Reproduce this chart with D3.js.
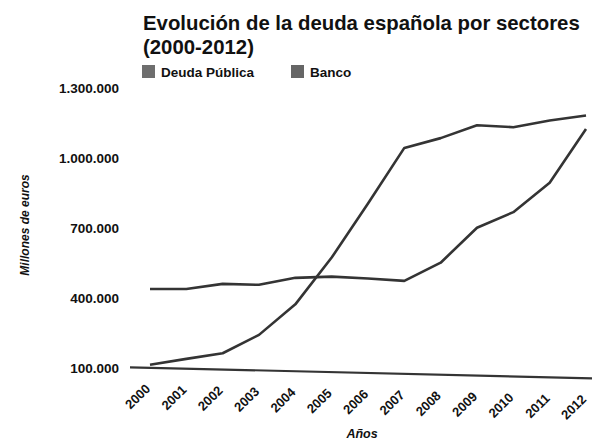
<!DOCTYPE html>
<html>
<head>
<meta charset="utf-8">
<script src="https://cdn.jsdelivr.net/npm/d3@7"></script>
<style>
  body { margin: 0; background: #fff; }
  svg { display: block; font-family: 'Liberation Sans', Arial, sans-serif; }
</style>
</head>
<body>
<script>
const years = ['2000', '2001', '2002', '2003', '2004', '2005', '2006',
  '2007', '2008', '2009', '2010', '2011', '2012'];
// millones de euros
const deudaPublica = [438000, 438000, 460000, 456000, 486000, 491000, 483000,
  473000, 551000, 701000, 768000, 894000, 1125000];
const banco = [113000, 138000, 162000, 241000, 372000, 573000, 805000,
  1044000, 1086000, 1141000, 1133000, 1162000, 1183000];
const yTicks = [100000, 400000, 700000, 1000000, 1300000];
const seriesNames = ['Deuda Pública', 'Banco'];

const width = 592;
const height = 447;
const lineColor = '#343434';
const swatch = ['#6e6e6e', '#666'];

const svg = d3.select('body')
  .append('svg')
  .attr('width', width)
  .attr('height', height);

const x = d3.scalePoint().domain(years).range([150, 586]);
const y = d3.scaleLinear().domain([100000, 1300000]).range([367.7, 88.3]);

const es = d3.formatLocale({ decimal: ',', thousands: '.', grouping: [3], currency: ['', ' €'] });

// titulo
const title = svg.append('g').attr('font-weight', 'bold').attr('fill', '#111');
const t1 = title.append('text')
  .attr('x', 143).attr('y', 30)
  .attr('font-size', 19)
  .text('Evolución de la deuda española por sectores');
const w1 = t1.node().getComputedTextLength();
t1.attr('font-size', 19 * 437 / w1);
title.append('text')
  .attr('x', 143).attr('y', 54)
  .attr('font-size', 19 * 437 / w1)
  .text('(2000-2012)');

// leyenda
const legend = svg.append('g').attr('font-weight', 'bold').attr('font-size', 13.5);
const legendX = [142, 291];
seriesNames.forEach((name, i) => {
  const g = legend.append('g').attr('transform', `translate(${legendX[i]}, 65)`);
  g.append('rect').attr('width', 13).attr('height', 13).attr('fill', swatch[i]);
  g.append('text').attr('x', 19).attr('y', 11.5).attr('fill', '#111').text(name);
});

// eje y
const yAxis = svg.append('g')
  .attr('transform', 'translate(119, 0)')
  .call(d3.axisLeft(y).tickValues(yTicks).tickSize(0).tickPadding(0)
    .tickFormat(es.format(',')));
yAxis.select('.domain').remove();
yAxis.selectAll('text')
  .attr('font-family', "'Liberation Sans', Arial, sans-serif")
  .attr('font-size', 13.5)
  .attr('font-weight', 'bold')
  .attr('fill', '#111');

svg.append('text')
  .attr('transform', 'translate(29, 225) rotate(-90)')
  .attr('text-anchor', 'middle')
  .attr('font-size', 12)
  .attr('font-weight', 'bold')
  .attr('font-style', 'italic')
  .attr('fill', '#111')
  .text('Millones de euros');

// eje x (ligeramente inclinado como en el original escaneado)
const xAxis = svg.append('g')
  .attr('transform', 'translate(0, 364.2) skewY(1.37)');
xAxis.append('line')
  .attr('x1', x.range()[0] - 20).attr('x2', x.range()[1] + 6)
  .attr('stroke', lineColor).attr('stroke-width', 2.2);
xAxis.selectAll('.xlabel')
  .data(years)
  .enter()
  .append('text')
  .attr('class', 'xlabel')
  .attr('transform', d => `translate(${x(d) + 1}, 22) rotate(-45)`)
  .attr('text-anchor', 'end')
  .attr('font-size', 13)
  .attr('font-weight', 'bold')
  .attr('fill', '#111')
  .text(d => d);

svg.append('text')
  .attr('x', 362).attr('y', 438)
  .attr('text-anchor', 'middle')
  .attr('font-size', 12.5)
  .attr('font-weight', 'bold')
  .attr('font-style', 'italic')
  .attr('fill', '#111')
  .text('Años');

// lineas
const line = d3.line()
  .x((d, i) => x(years[i]))
  .y(d => y(d));

[deudaPublica, banco].forEach(s => {
  svg.append('path')
    .datum(s)
    .attr('d', line)
    .attr('fill', 'none')
    .attr('stroke', lineColor)
    .attr('stroke-width', 2.6)
    .attr('stroke-linejoin', 'round');
});
</script>
</body>
</html>
